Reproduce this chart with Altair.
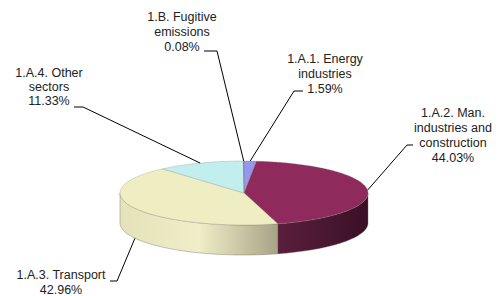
import math
import altair as alt
import pandas as pd

# ---- data ----
categories = [
    "1.A.1. Energy industries",
    "1.A.2. Man. industries and construction",
    "1.A.3. Transport",
    "1.A.4. Other sectors",
    "1.B. Fugitive emissions",
]
shares = [1.59, 44.03, 42.96, 11.33, 0.08]
label_lines = [
    ["1.A.1. Energy", "industries", "1.59%"],
    ["1.A.2. Man.", "industries and", "construction", "44.03%"],
    ["1.A.3. Transport", "42.96%"],
    ["1.A.4. Other", "sectors", "11.33%"],
    ["1.B. Fugitive", "emissions", "0.08%"],
]
top_colors = ["#9696f0", "#8e2a5c", "#efedc2", "#c2eeee", "#5a5a86"]
side_gradients = {
    1: ["#5a1f3d", "#3a1026"],
    2: ["#e4e2b8", "#f0eec8", "#a6a486"],
}

# ---- layout (page pixels) ----
CX, CY, RX, RY, DEPTH = 244, 193, 124, 32, 30
# baseline of first line of each label, and line spacing
label_pos = [(325, 62.5, 15), (453, 116.5, 15), (61, 278.5, 15), (49, 76.5, 14), (182, 20.5, 15)]
leader_elbow = [
    [(303, 91), (294, 91)],
    [(413, 145), (407, 145)],
    [(110, 281), (117, 281)],
    [(74, 107), (83, 107)],
    [(204, 51), (217, 51)],
]


def pt(deg, drop=0.0):
    t = math.radians(deg)
    return CX + RX * math.sin(t), CY - RY * math.cos(t) + drop


def arc(a0, a1, drop=0.0):
    n = max(1, int(math.ceil(abs(a1 - a0))))
    return [pt(a0 + (a1 - a0) * k / n, drop) for k in range(n + 1)]


total = sum(shares)
bounds = []
cum = 0.0
for s in shares:
    a0 = cum / total * 360
    cum += s
    bounds.append((a0, cum / total * 360))

# top faces
top_rows = []
for i, (a0, a1) in enumerate(bounds):
    pts = [(CX, CY)] + arc(a0, a1) + [(CX, CY)]
    for j, (x, y) in enumerate(pts):
        top_rows.append({"slice": categories[i], "i": j, "x": x, "y": y})
top_df = pd.DataFrame(top_rows)

# side walls (front half: 90..270 deg)
side_dfs = {}
for i, (a0, a1) in enumerate(bounds):
    s, e = max(a0, 90), min(a1, 270)
    if e <= s:
        continue
    pts = arc(s, e) + arc(e, s, DEPTH)
    pts.append(pts[0])
    side_dfs[i] = pd.DataFrame(
        [{"slice": categories[i], "i": j, "x": x, "y": y} for j, (x, y) in enumerate(pts)]
    )

# leaders and labels
lead_rows = []
text_rows = []
for i, (a0, a1) in enumerate(bounds):
    mid = (a0 + a1) / 2
    drop = DEPTH if math.cos(math.radians(mid)) < 0 else 0
    pts = leader_elbow[i] + [pt(mid, drop)]
    for j, (x, y) in enumerate(pts):
        lead_rows.append({"slice": categories[i], "i": j, "x": x, "y": y})
    lx, ly, lh = label_pos[i]
    for k, line in enumerate(label_lines[i]):
        text_rows.append({"t": line, "x": lx, "y": ly + k * lh})
lead_df = pd.DataFrame(lead_rows)
text_df = pd.DataFrame(text_rows)

xs = alt.Scale(domain=[8, 495], nice=False, zero=False)
ys = alt.Scale(domain=[8, 296], nice=False, zero=False, reverse=True)
X = alt.X("x:Q", scale=xs, axis=None)
Y = alt.Y("y:Q", scale=ys, axis=None)

layers = []
for i, df in side_dfs.items():
    stops = side_gradients[i]
    grad = alt.Gradient(
        gradient="linear",
        stops=[alt.GradientStop(offset=k / (len(stops) - 1), color=c) for k, c in enumerate(stops)],
        x1=0, x2=1, y1=0, y2=0,
    )
    layers.append(
        alt.Chart(df).mark_line(filled=True, fill=grad, stroke="#6f6a5a", strokeWidth=0.4)
        .encode(x=X, y=Y, order=alt.Order("i:Q"), detail="slice:N")
    )

layers.append(
    alt.Chart(top_df).mark_line(filled=True, strokeWidth=0.5, stroke="#8a8a80", strokeOpacity=0.6)
    .encode(
        x=X, y=Y, order=alt.Order("i:Q"), detail="slice:N",
        color=alt.Color("slice:N", scale=alt.Scale(domain=categories, range=top_colors), legend=None),
    )
)
layers.append(
    alt.Chart(lead_df).mark_line(color="black", strokeWidth=1)
    .encode(x=X, y=Y, order=alt.Order("i:Q"), detail="slice:N")
)
layers.append(
    alt.Chart(text_df).mark_text(font="Liberation Sans", fontSize=12.5, color="#222222",
                                 align="center", baseline="alphabetic")
    .encode(x=X, y=Y, text="t:N")
)

chart = alt.layer(*layers).properties(
    width=487, height=288, autosize=alt.AutoSizeParams(type="none"), padding=0,
    background="white",
).configure_view(stroke=None)

chart.save("out.html", embed_options={"renderer": "svg", "actions": False})
